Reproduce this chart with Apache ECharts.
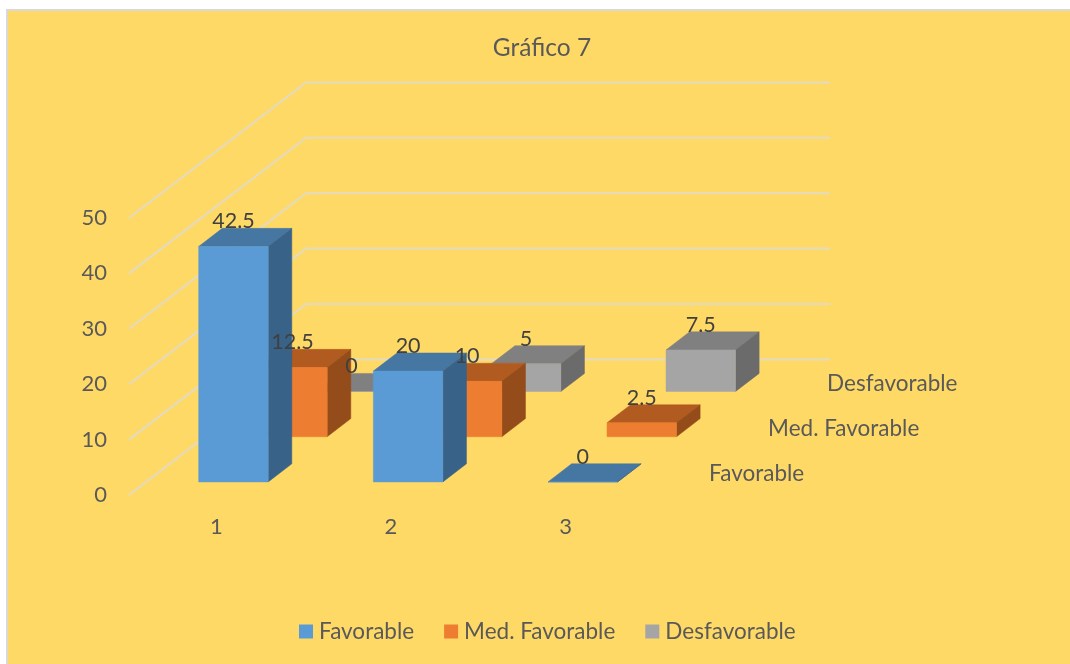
<!DOCTYPE html>
<html>
<head>
<meta charset="utf-8">
<title>Gráfico 7</title>
<script src="https://cdn.jsdelivr.net/npm/echarts@6/dist/echarts.min.js"></script>
<style>
  html, body { margin: 0; padding: 0; background: #fff; }
  #main { width: 1070px; height: 664px; }
</style>
</head>
<body>
<div id="main"></div>
<script>
var categories = ['1', '2', '3']
var seriesNames = ['Favorable', 'Med. Favorable', 'Desfavorable']
var favorable = [42.5, 20, 0]
var medFavorable = [12.5, 10, 2.5]
var desfavorable = [0, 5, 7.5]
var wallTicks = [0, 10, 20, 30, 40, 50]

// fake 3d: one row of depth moves a point this far on screen
var DEPTH_X = 59
var DEPTH_Y = 45.2
var ROW_START = 0.29 // where the first row of bars sits on the floor
var BAR_DEPTH = 0.4
var BAR_WIDTH = 0.398 // share of the category band

var FONT = 'Lato, "Open Sans", sans-serif'

var faces = [
    { front: '#5B9BD5', top: '#4676A2', side: '#386287' },
    { front: '#ED7D31', top: '#B25B20', side: '#944C1A' },
    { front: '#A5A5A5', top: '#808080', side: '#6B6B6B' }
]

function poly(points, color) {
    return { type: 'polygon', shape: { points: points }, style: { fill: color, stroke: color, lineWidth: 0.5 } }
}

function barRenderer(row) {
    return function (params, api) {
        var top = api.coord([api.value(0), api.value(1)])
        var base = api.coord([api.value(0), 0])
        var w = api.size([1, 0])[0] * BAR_WIDTH
        var ox = (ROW_START + row) * DEPTH_X
        var oy = (ROW_START + row) * DEPTH_Y
        var l = top[0] - w / 2 + ox
        var r = l + w
        var t = top[1] - oy
        var b = base[1] - oy
        var dx = BAR_DEPTH * DEPTH_X
        var dy = BAR_DEPTH * DEPTH_Y
        var c = faces[row]
        return {
            type: 'group',
            children: [
                poly([[l, t], [r, t], [r + dx, t - dy], [l + dx, t - dy]], c.top),
                poly([[r, t], [r + dx, t - dy], [r + dx, b - dy], [r, b]], c.side),
                poly([[l, t], [r, t], [r, b], [l, b]], c.front)
            ]
        }
    }
}

function renderLabel(params, api) {
    var row = api.value(2)
    var p = api.coord([api.value(0), api.value(1)])
    return {
        type: 'text',
        style: {
            text: String(api.value(1)),
            x: p[0] + (ROW_START + row) * DEPTH_X,
            y: p[1] - (ROW_START + row) * DEPTH_Y - 25,
            align: 'center',
            verticalAlign: 'middle',
            font: '21.5px ' + FONT,
            fill: '#404040'
        }
    }
}

function renderWall(params, api) {
    var p = api.coord([0, api.value(1)])
    var band = api.size([1, 0])[0]
    var x0 = p[0] - band / 2
    var x1 = x0 + 3 * DEPTH_X
    var y1 = p[1] - 3 * DEPTH_Y
    return {
        type: 'polyline',
        shape: { points: [[x0, p[1]], [x1, y1], [x1 + band * categories.length, y1]] },
        style: { fill: null, stroke: '#E3DBC0', lineWidth: 2 }
    }
}

function renderDepthName(params, api) {
    var row = api.value(0)
    var p = api.coord([categories.length - 1, 0])
    var band = api.size([1, 0])[0]
    return {
        type: 'text',
        style: {
            text: seriesNames[row],
            x: p[0] + band / 2 + (ROW_START + row) * DEPTH_X + 39,
            y: p[1] - (ROW_START + row) * DEPTH_Y - 8,
            align: 'left',
            verticalAlign: 'middle',
            font: '22.5px ' + FONT,
            fill: '#595959'
        }
    }
}

var rows = [favorable, medFavorable, desfavorable]
var labelData = []
rows.forEach(function (vals, row) {
    vals.forEach(function (v, i) { labelData.push([i, v, row]) })
})

var option = {
    animation: false,
    textStyle: { fontFamily: FONT },
    graphic: [{
        type: 'rect',
        z: -10,
        silent: true,
        shape: { x: 7, y: 10, width: 1070, height: 664 },
        style: { fill: '#FFD966', stroke: '#D9D9D9', lineWidth: 2 }
    }],
    title: {
        text: 'Gráfico 7',
        left: 537,
        top: 31,
        textAlign: 'center',
        textStyle: { fontFamily: FONT, fontSize: 24.5, fontWeight: 'normal', color: '#595959' }
    },
    legend: {
        left: 299,
        top: 620,
        padding: 0,
        icon: 'rect',
        itemWidth: 14,
        itemHeight: 14,
        itemGap: 30,
        itemStyle: { borderWidth: 0 },
        textStyle: { fontFamily: FONT, fontSize: 22.5, color: '#595959', padding: [0, 0, 0, 1] },
        data: seriesNames
    },
    grid: { left: 129, width: 524, top: 218, height: 277, containLabel: false },
    xAxis: {
        type: 'category',
        data: categories,
        axisLine: { show: false },
        axisTick: { show: false },
        axisLabel: { margin: 21, fontFamily: FONT, fontSize: 22, color: '#595959' }
    },
    yAxis: {
        type: 'value',
        min: 0,
        max: 50,
        interval: 10,
        axisLine: { show: false },
        axisTick: { show: false },
        splitLine: { show: false },
        axisLabel: { margin: 22, fontFamily: FONT, fontSize: 22, color: '#595959' }
    },
    series: [
        { type: 'custom', z: 1, silent: true, renderItem: renderWall, data: wallTicks.map(function (v) { return [0, v] }) },
        { type: 'custom', name: seriesNames[0], z: 5, itemStyle: { color: faces[0].front }, renderItem: barRenderer(0), data: favorable.map(function (v, i) { return [i, v] }) },
        { type: 'custom', name: seriesNames[1], z: 4, itemStyle: { color: faces[1].front }, renderItem: barRenderer(1), data: medFavorable.map(function (v, i) { return [i, v] }) },
        { type: 'custom', name: seriesNames[2], z: 3, itemStyle: { color: faces[2].front }, renderItem: barRenderer(2), data: desfavorable.map(function (v, i) { return [i, v] }) },
        { type: 'custom', z: 8, silent: true, renderItem: renderLabel, data: labelData },
        { type: 'custom', z: 8, silent: true, renderItem: renderDepthName, data: seriesNames.map(function (n, i) { return [i] }) }
    ]
}

var myChart = echarts.init(document.getElementById('main'))
myChart.setOption(option)
</script>
</body>
</html>
